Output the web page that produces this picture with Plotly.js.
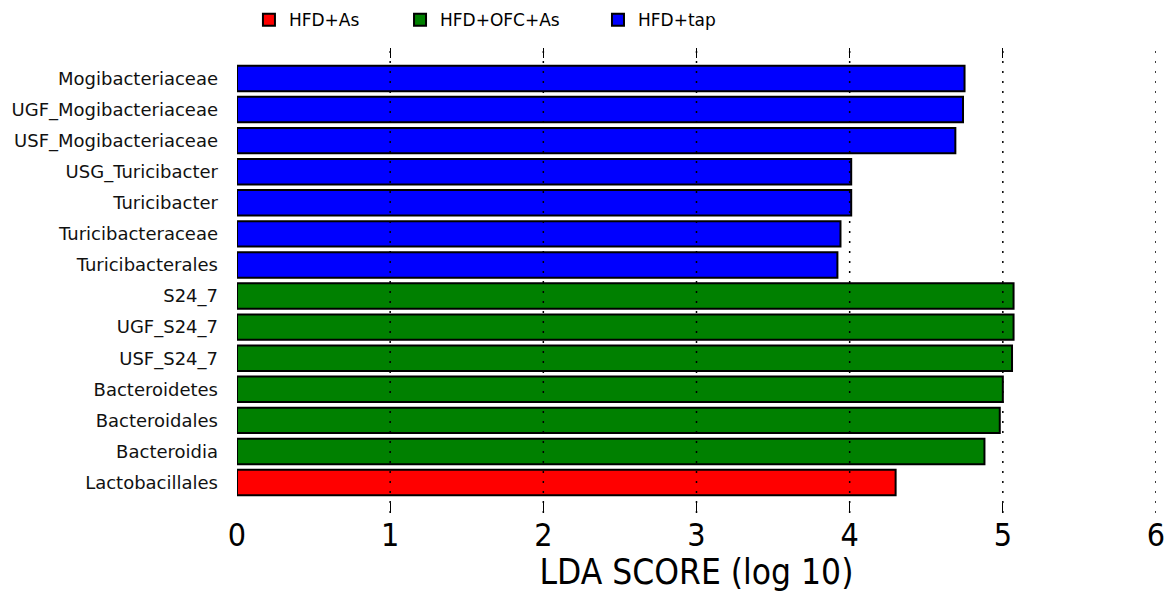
<!DOCTYPE html>
<html>
<head>
<meta charset="utf-8">
<script src="https://cdn.plot.ly/plotly-3.0.1.min.js"></script>
<style>html,body{margin:0;padding:0;background:#fff;}#chart{width:1175px;height:592px;}</style>
</head>
<body>
<div id="chart"></div>
<script>
// Taxa, top to bottom as shown
var taxa = ["Mogibacteriaceae", "UGF_Mogibacteriaceae", "USF_Mogibacteriaceae", "USG_Turicibacter",
  "Turicibacter", "Turicibacteraceae", "Turicibacterales", "S24_7", "UGF_S24_7", "USF_S24_7",
  "Bacteroidetes", "Bacteroidales", "Bacteroidia", "Lactobacillales"];
var taxonGroup = ["HFD+tap", "HFD+tap", "HFD+tap", "HFD+tap", "HFD+tap", "HFD+tap", "HFD+tap",
  "HFD+OFC+As", "HFD+OFC+As", "HFD+OFC+As", "HFD+OFC+As", "HFD+OFC+As", "HFD+OFC+As", "HFD+As"];
var ldaScore = [4.75, 4.74, 4.69, 4.01, 4.01, 3.94, 3.92, 5.07, 5.07, 5.06, 5.00, 4.98, 4.88, 4.30];
var groupNames = ["HFD+As", "HFD+OFC+As", "HFD+tap"];
var groupColors = ["#ff0000", "#008000", "#0000ff"];
var xTicks = [0, 1, 2, 3, 4, 5, 6];
var gridVals = [1, 2, 3, 4, 5, 6];

var legendIds = ["legend", "legend2", "legend3"];
var legendX = [0.013, 0.1774, 0.3928];

var traces = groupNames.map(function (g, gi) {
  var ys = [], xs = [];
  taxa.forEach(function (t, i) { if (taxonGroup[i] === g) { ys.push(t); xs.push(ldaScore[i]); } });
  return {
    type: "bar", orientation: "h", name: g, x: xs, y: ys, width: 0.82,
    legend: legendIds[gi],
    marker: { color: groupColors[gi], line: { color: "#000", width: 2 } },
    hoverinfo: "x+y"
  };
});

var condensed = "DejaVu Sans Condensed, Liberation Sans Narrow, DejaVu Sans, sans-serif";
var shapes = gridVals.map(function (v) {
  return { type: "line", xref: "x", yref: "paper", x0: v, x1: v, y0: 0, y1: 1, layer: "above",
    line: { color: "#000", width: 1.5, dash: "2px,8px" } };
});

var layout = {
  width: 1175, height: 592,
  margin: { l: 237, r: 19, t: 48, b: 79, autoexpand: false },
  paper_bgcolor: "#fff", plot_bgcolor: "#fff",
  barmode: "overlay",
  showlegend: true,
  xaxis: {
    range: [0, 6], tickvals: xTicks, ticktext: xTicks.map(String),
    ticks: "inside", ticklen: 10, tickwidth: 1.2, tickcolor: "#000", mirror: "ticks",
    showline: false, showgrid: false, zeroline: false,
    tickfont: { family: condensed, size: 32, color: "#000" },
    title: { text: "LDA SCORE (log 10)", font: { family: condensed, size: 35, color: "#000" }, standoff: 8 }
  },
  yaxis: {
    type: "category", categoryorder: "array", categoryarray: taxa,
    range: [13.98, -0.98], showgrid: false, zeroline: false, showline: false, ticks: "",
    ticklabelstandoff: 18,
    tickfont: { family: "DejaVu Sans, sans-serif", size: 18, color: "#111" }
  },
  shapes: shapes
};
legendIds.forEach(function (id, i) {
  layout[id] = { orientation: "h", x: legendX[i], xanchor: "left", y: 1.06, yanchor: "middle",
    bgcolor: "rgba(0,0,0,0)",
    font: { family: "DejaVu Sans, sans-serif", size: 17, color: "#000" } };
});

Plotly.newPlot("chart", traces, layout, { displayModeBar: false, staticPlot: true });
</script>
</body>
</html>
